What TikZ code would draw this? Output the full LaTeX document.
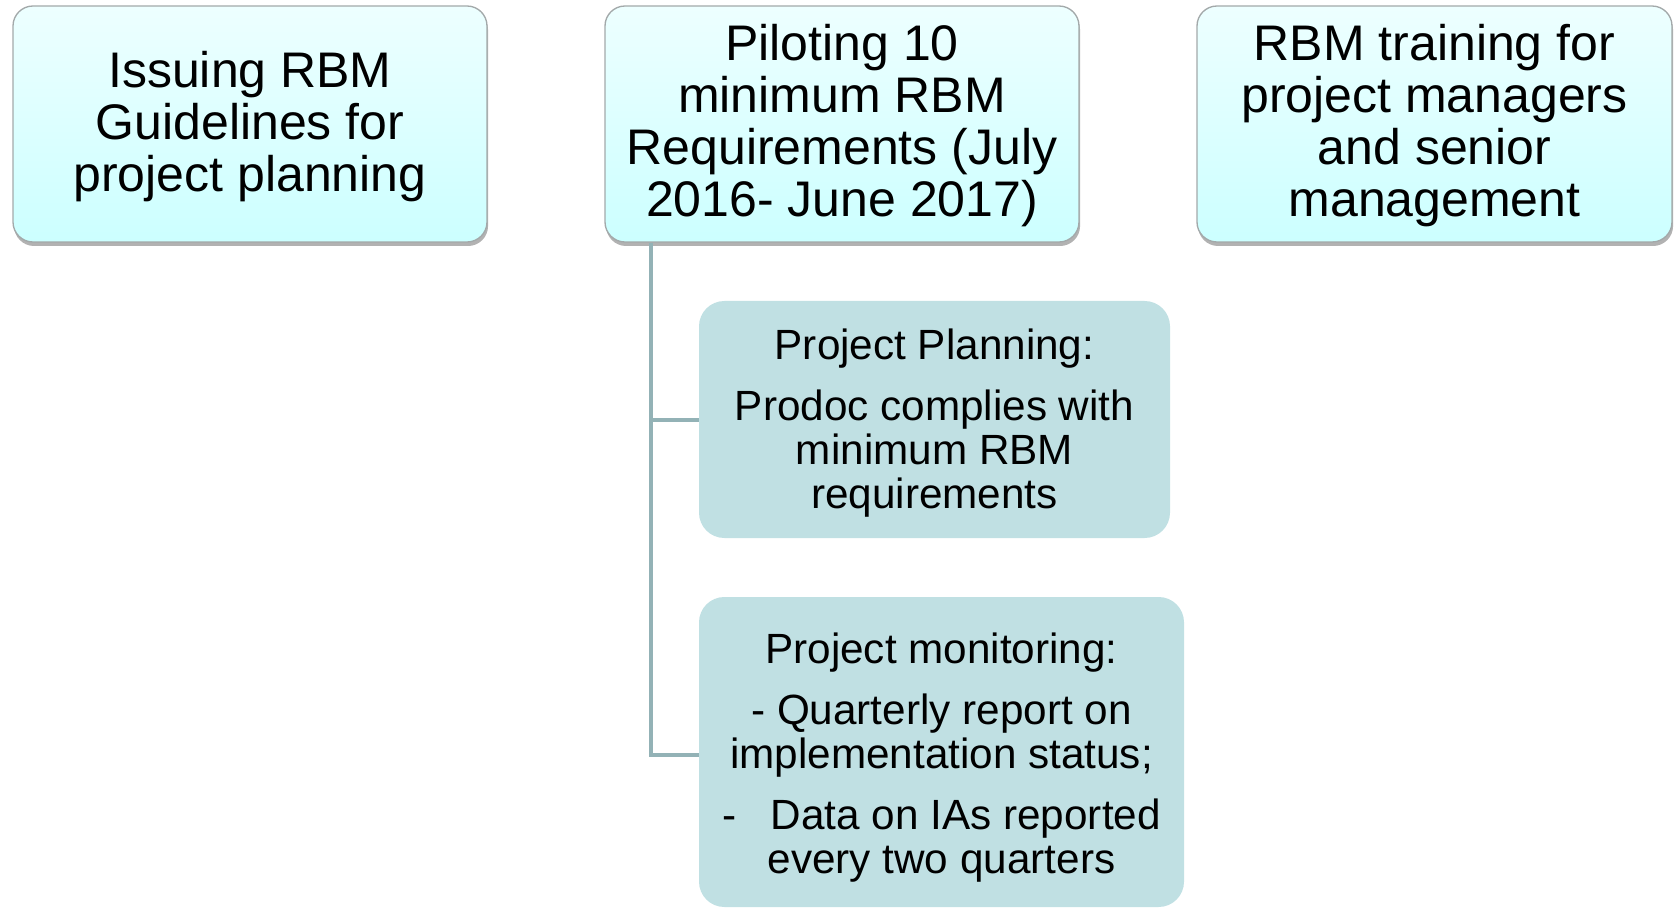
\documentclass[tikz,border=0pt]{standalone}
\usepackage{fontspec}
\setmainfont{Liberation Sans}
\usetikzlibrary{shadows}
\definecolor{topedge}{HTML}{A3A9AA}
\definecolor{childfill}{HTML}{C0E0E3}
\definecolor{connclr}{HTML}{93B2B6}
\tikzset{
  topbox/.style={rectangle, rounded corners=15pt, draw=topedge, line width=1pt,
    top color=cyan!7!white, bottom color=cyan!20!white,
    drop shadow={shadow xshift=0.8pt, shadow yshift=-3pt, fill=black, opacity=0.3},
    minimum width=355.5pt, minimum height=177pt, inner sep=0pt},
  toptext/.style={inner sep=0pt, align=center, font=\fontsize{37.5}{39.1}\selectfont},
  childbox/.style={rectangle, rounded corners=19pt, fill=childfill, draw=none, inner sep=0pt},
  childtext/.style={inner sep=0pt, align=center, font=\fontsize{31.7}{33}\selectfont},
  conn/.style={draw=connclr, line width=3pt}
}
\begin{document}
\begin{tikzpicture}[x=0.75pt, y=-0.75pt]
\useasboundingbox (0,0) rectangle (1675,909);
\node[topbox, label={[toptext, yshift=-2.2pt]center:{Issuing RBM\\Guidelines for\\project planning}}] (b1) at (250,124) {};
\node[topbox, label={[toptext, yshift=-1.3pt]center:{Piloting 10\\minimum RBM\\Requirements (July\\2016- June 2017)}}] (b2) at (842,124) {};
\node[topbox, minimum width=356.25pt, label={[toptext, yshift=-1.3pt]center:{RBM training for\\project managers\\and senior\\management}}] (b3) at (1434.5,124) {};
\node[childbox, minimum width=353.25pt, minimum height=177.75pt,
  label={[childtext, yshift=-2.4pt]center:{Project Planning:\\[12.75pt]Prodoc complies with\\minimum RBM\\requirements}}] (c1) at (934.5,419.5) {};
\node[childbox, minimum width=363.75pt, minimum height=232.5pt,
  label={[childtext, yshift=-4.4pt]center:{Project monitoring:\\[12.75pt]- Quarterly report on\\implementation status;\\[12.75pt]-\hspace{0.82em}Data on IAs reported\\every two quarters}}] (c2) at (941.5,752) {};
\coordinate (tap) at ([xshift=35.25pt]b2.south west);
\draw[conn] (tap) |- (c1.west);
\draw[conn] (tap) |- ([yshift=-2.2pt]c2.west);
\end{tikzpicture}
\end{document}
